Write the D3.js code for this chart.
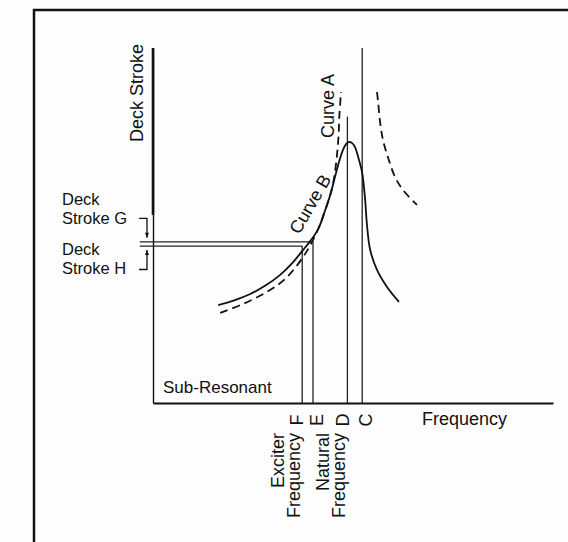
<!DOCTYPE html>
<html>
<head>
<meta charset="utf-8">
<script src="https://cdn.jsdelivr.net/npm/d3@7"></script>
<style>
	body { margin: 0; background: #fdfdfd; }
	text { font-family: "Liberation Sans", Arial, sans-serif; fill: #111; }
</style>
</head>
<body>
<div id="chart"></div>
<script>
// curve B (solid, damped response): [frequency, deck stroke]
var curveB = [
	[16.3, 27.6], [20.5, 29.0], [24.3, 30.7], [28.0, 33.0], [31.8, 36.1],
	[34.8, 39.4], [37.3, 42.8], [39.3, 45.6], [41.3, 49.0], [42.8, 53.5],
	[44.3, 58.6], [45.5, 63.7], [46.5, 67.9], [47.5, 71.3], [48.3, 73.0],
	[48.9, 73.5], [49.8, 73.2], [50.5, 72.1], [51.3, 69.3], [52.3, 64.8],
	[53.0, 57.7], [53.5, 50.1], [54.3, 43.1], [56.0, 37.5], [58.5, 32.7],
	[61.5, 28.5]
]

// curve A (dashed), left and right branches
var curveALeft = [
	[16.8, 25.4], [22.5, 27.9], [28.5, 31.3], [33.0, 34.9], [36.3, 39.2],
	[38.3, 42.5], [40.0, 45.9], [41.8, 50.4], [43.5, 55.8], [44.8, 60.6],
	[45.5, 65.1], [46.0, 69.9], [46.4, 75.5], [46.6, 81.1], [47.0, 87.6]
]
var curveARight = [
	[56.0, 87.6], [56.3, 84.5], [56.8, 78.9], [57.5, 74.1], [58.8, 69.0],
	[60.5, 63.7], [62.5, 60.0], [66.0, 55.8]
]

// frequency markers: name, frequency, top of line (stroke)
var markers = [
	{ name: "F", freq: 37.3, top: 44.2, dx: 1 },
	{ name: "E", freq: 40.0, top: 45.4, dx: 10 },
	{ name: "D", freq: 48.6, top: 80.6, dx: 2 },
	{ name: "C", freq: 52.3, top: 100, dx: 10 }
]

// deck stroke levels
var strokes = [
	{ name: "G", level: 45.4, freq: 40.0, lines: ["Deck", "Stroke G"] },
	{ name: "H", level: 44.2, freq: 37.3, lines: ["Deck", "Stroke H"] }
]

var freqLabels = [
	{ freq: 37.3, lines: ["Exciter", "Frequency"] },
	{ freq: 48.6, lines: ["Natural", "Frequency"] }
]

var width = 568, height = 542

var x = d3.scaleLinear().domain([0, 100]).range([153, 553])
var y = d3.scaleLinear().domain([0, 100]).range([403, 48])

var svg = d3.select("#chart").append("svg")
	.attr("width", width)
	.attr("height", height)

// page frame (scanned page border)
svg.append("path")
	.attr("d", "M34,542V10H568")
	.attr("fill", "none")
	.attr("stroke", "#111")
	.attr("stroke-width", 2.5)

// axes without ticks
svg.append("g")
	.attr("transform", "translate(0," + y(0) + ")")
	.call(d3.axisBottom(x).tickValues([]).tickSizeOuter(0))
	.select(".domain").attr("stroke", "#111").attr("stroke-width", 2)

svg.append("g")
	.attr("transform", "translate(" + x(0) + ",0)")
	.call(d3.axisLeft(y).tickValues([]).tickSizeOuter(0))
	.select(".domain").attr("stroke", "#111").attr("stroke-width", 1.4)

// heavier ink on upper part of stroke axis
svg.append("line")
	.attr("x1", x(0)).attr("x2", x(0))
	.attr("y1", y(100)).attr("y2", y(53))
	.attr("stroke", "#111")
	.attr("stroke-width", 2.6)

// vertical frequency lines
svg.selectAll("line.marker")
	.data(markers)
	.enter().append("line")
	.attr("class", "marker")
	.attr("x1", function(d) { return x(d.freq) })
	.attr("x2", function(d) { return x(d.freq) })
	.attr("y1", function(d) { return y(d.top) })
	.attr("y2", y(0))
	.attr("stroke", "#222")
	.attr("stroke-width", 1.3)

svg.selectAll("text.marker")
	.data(markers)
	.enter().append("text")
	.attr("class", "marker")
	.attr("transform", function(d) { return "translate(" + (x(d.freq) + d.dx) + ",420) rotate(-90)" })
	.attr("text-anchor", "middle")
	.style("font-size", "18px")
	.text(function(d) { return d.name })

// horizontal stroke lines
svg.selectAll("line.stroke")
	.data(strokes)
	.enter().append("line")
	.attr("class", "stroke")
	.attr("x1", x(-3.3))
	.attr("x2", function(d) { return x(d.freq) })
	.attr("y1", function(d) { return y(d.level) })
	.attr("y2", function(d) { return y(d.level) })
	.attr("stroke", "#222")
	.attr("stroke-width", 1.4)

// brackets for G (above) and H (below)
var bx = x(-1.5)
strokes.forEach(function(d, i) {
	var sign = i == 0 ? 1 : -1
	var yt = y(d.level + sign * 6.6), ye = y(d.level) - sign * 4
	svg.append("path")
		.attr("d", "M" + (bx - 8) + "," + yt + "H" + bx + "V" + ye)
		.attr("fill", "none")
		.attr("stroke", "#111")
		.attr("stroke-width", 1.3)
	svg.append("path")
		.attr("d", "M" + (bx - 2) + "," + (ye - sign * 5) + "L" + bx + "," + ye + "L" + (bx + 2) + "," + (ye - sign * 5) + "Z")
		.attr("fill", "#111")
})

var labelTop = [204.5, 254.5]
strokes.forEach(function(d, i) {
	svg.append("text")
		.attr("x", 62)
		.attr("y", labelTop[i])
		.style("font-size", "16.5px")
		.selectAll("tspan")
		.data(d.lines)
		.enter().append("tspan")
		.attr("x", 62)
		.attr("dy", function(t, j) { return j == 0 ? 0 : 19 })
		.text(function(t) { return t })
})

// curves
var line = d3.line()
	.x(function(d) { return x(d[0]) })
	.y(function(d) { return y(d[1]) })
	.curve(d3.curveCatmullRom)

svg.append("path")
	.attr("d", line(curveB))
	.attr("fill", "none")
	.attr("stroke", "#111")
	.attr("stroke-width", 1.8)

svg.selectAll("path.curveA")
	.data([curveALeft, curveARight])
	.enter().append("path")
	.attr("class", "curveA")
	.attr("d", line)
	.attr("fill", "none")
	.attr("stroke", "#111")
	.attr("stroke-width", 1.8)
	.attr("stroke-dasharray", "8,5")

// text labels
svg.append("text")
	.attr("transform", "translate(143,93) rotate(-90)")
	.attr("text-anchor", "middle")
	.style("font-size", "18px")
	.text("Deck Stroke")

svg.append("text")
	.attr("transform", "translate(334,106) rotate(-90)")
	.attr("text-anchor", "middle")
	.style("font-size", "18px")
	.text("Curve A")

svg.append("text")
	.attr("transform", "translate(310,204) rotate(-60)")
	.attr("text-anchor", "middle")
	.attr("dy", "0.35em")
	.style("font-size", "18px")
	.text("Curve B")

svg.append("text")
	.attr("x", 163)
	.attr("y", 393)
	.style("font-size", "17px")
	.text("Sub-Resonant")

svg.append("text")
	.attr("x", 422)
	.attr("y", 425)
	.style("font-size", "18px")
	.text("Frequency")

freqLabels.forEach(function(d) {
	var base = x(d.freq) - 2
	d.lines.forEach(function(t, j) {
		svg.append("text")
			.attr("transform", "translate(" + (base - 16 + 16 * j) + ",433) rotate(-90)")
			.attr("text-anchor", "end")
			.style("font-size", "18px")
			.text(t)
	})
})
</script>
</body>
</html>
